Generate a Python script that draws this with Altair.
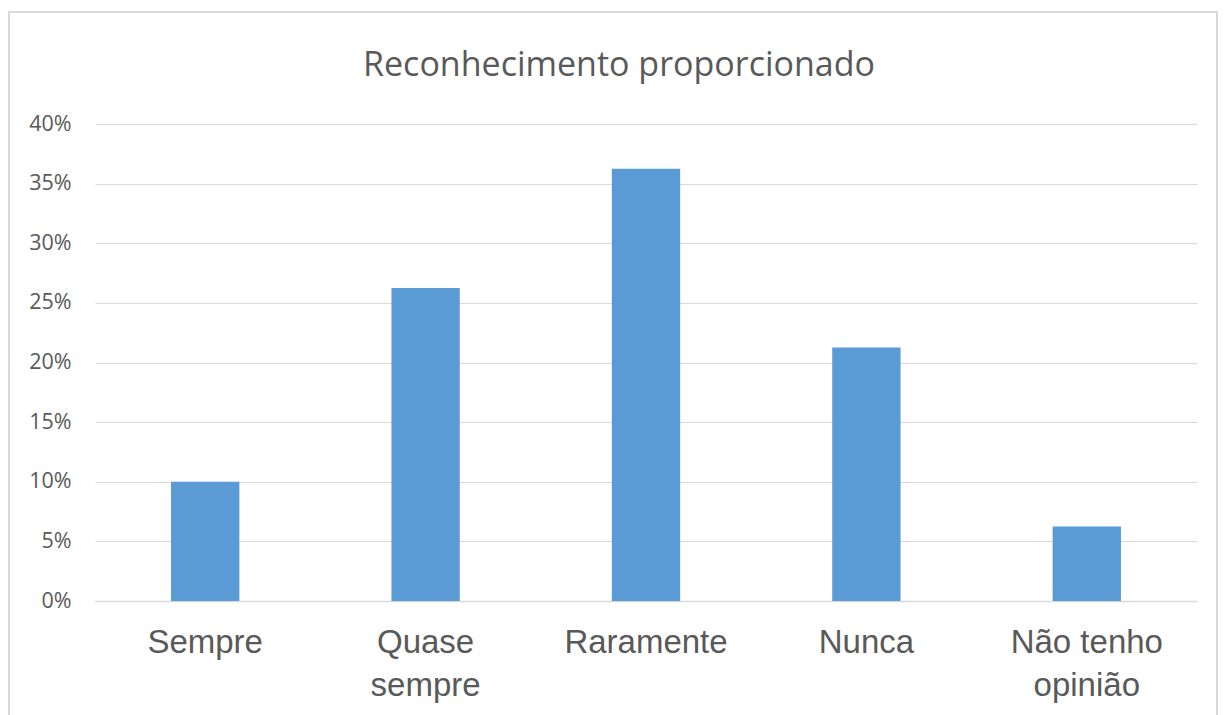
import altair as alt
import pandas as pd

categories = ["Sempre", "Quase sempre", "Raramente", "Nunca", "Não tenho opinião"]
shares = [0.10, 0.2625, 0.3625, 0.2125, 0.0625]

df = pd.DataFrame({"categoria": categories, "valor": shares})

GRID = "#d9d9d9"
TEXT = "#595959"
BAR = "#5b9bd5"

# two-line labels for the longer categories
label_expr = (
    "datum.label == 'Quase sempre' ? ['Quase', 'sempre'] : "
    "datum.label == 'Não tenho opinião' ? ['Não tenho', 'opinião'] : datum.label"
)

bars = alt.Chart(df).mark_bar(color=BAR, width=alt.RelativeBandSize(0.31)).encode(
    x=alt.X(
        "categoria:N",
        sort=categories,
        scale=alt.Scale(paddingInner=0, paddingOuter=0),
        axis=alt.Axis(
            title=None,
            labelAngle=0,
            labelFont="Liberation Sans",
            labelFontSize=33,
            labelColor=TEXT,
            labelPadding=25,
            labelBaseline="top",
            labelLineHeight=43,
            labelExpr=label_expr,
            ticks=False,
            domain=True,
            domainColor=GRID,
            domainWidth=1.5,
            grid=False,
        ),
    ),
    y=alt.Y(
        "valor:Q",
        scale=alt.Scale(domain=[0, 0.4], nice=False),
        axis=alt.Axis(
            title=None,
            values=[0, 0.05, 0.1, 0.15, 0.2, 0.25, 0.3, 0.35, 0.4],
            format=".0%",
            labelFont="Open Sans",
            labelFontSize=21.5,
            labelColor=TEXT,
            labelPadding=24,
            ticks=False,
            domain=False,
            grid=True,
            gridColor=GRID,
            gridWidth=1.2,
        ),
    ),
)

# light frame around the whole chart
frame = alt.Chart(df).mark_rect(
    fill=None, stroke=GRID, strokeWidth=2
).encode(
    x=alt.value(-86), x2=alt.value(1122), y=alt.value(-112), y2=alt.value(700)
)

chart = alt.layer(frame, bars).properties(
    width=1102,
    height=477,
    title=alt.TitleParams(
        "Reconhecimento proporcionado",
        font="Open Sans",
        fontSize=34,
        fontWeight="normal",
        color=TEXT,
        anchor="middle",
        dx=-27,
        offset=-72,
    ),
    autosize=alt.AutoSizeParams(type="none"),
    padding={"left": 95, "top": 124, "right": 30, "bottom": 120},
).configure(background="white").configure_view(stroke=None)

chart.save("out.html", embed_options={"renderer": "svg", "actions": False})
